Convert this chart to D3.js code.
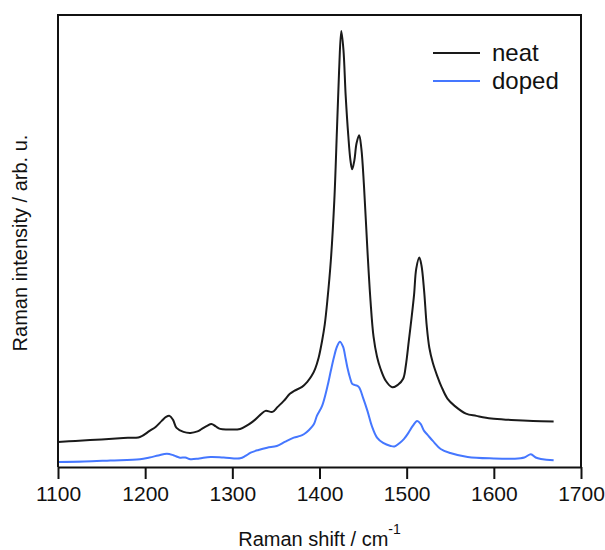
<!DOCTYPE html>
<html>
<head>
<meta charset="utf-8">
<script src="https://cdn.jsdelivr.net/npm/d3@7"></script>
<style>
  body { margin: 0; background: #fff; }
  svg { font-family: "Liberation Sans", Arial, sans-serif; }
</style>
</head>
<body>
<div id="chart"></div>
<script>
// Raman shift (cm-1) and intensity (arb. u.)
var neatShift = [1100, 1120, 1150, 1175, 1194, 1205, 1212, 1219, 1224, 1228, 1232, 1236, 1244, 1252,
  1260, 1265, 1271, 1276, 1281, 1286, 1295, 1309, 1318, 1324.5, 1332, 1338, 1346, 1352, 1359, 1366,
  1371, 1380, 1386, 1391, 1395, 1399, 1403, 1406, 1409, 1413, 1417, 1420, 1422.5, 1425, 1427.5, 1430,
  1433, 1435.5, 1437.5, 1440, 1442.5, 1445.5, 1448, 1451, 1455, 1458.5, 1462, 1466, 1470, 1476,
  1483.5, 1490, 1496, 1499, 1502.5, 1505.5, 1508.5, 1511, 1514.5, 1517, 1520, 1523, 1526, 1530, 1535,
  1540, 1547, 1555, 1568, 1580, 1597, 1620, 1645, 1668.6];
var neatValues = [25, 26, 27.5, 29, 30, 36, 40, 46, 50, 51, 47, 39, 35, 34,
  35.5, 38, 41, 43, 40.5, 38, 37.5, 38, 42, 46, 52, 56, 55, 60, 66, 73,
  76, 80, 85, 91, 98, 109, 126, 142, 166, 206, 266, 336, 396, 435, 416, 371,
  331, 306, 297, 306, 323, 331, 318, 281, 216, 166, 130, 110, 98, 86,
  79.5, 82, 88, 101, 126, 148, 172, 198, 209, 201, 176, 141, 119, 104, 91,
  80, 68, 61, 53.3, 51, 48.3, 47, 46, 45.3];

var dopedShift = [1100, 1130, 1160, 1194, 1205, 1215, 1225, 1233, 1240, 1246, 1252, 1262, 1275, 1290,
  1309, 1315, 1321, 1330, 1340, 1351, 1360, 1370.5, 1378, 1382, 1388, 1393.5, 1397, 1403, 1409, 1413,
  1416.5, 1420, 1423.4, 1427, 1430, 1432, 1435, 1437.5, 1440, 1445, 1450, 1455, 1460, 1466, 1473,
  1481.6, 1486, 1492, 1497, 1502, 1507, 1512, 1516, 1520, 1524, 1530, 1539, 1550, 1570, 1600, 1623,
  1635, 1642.5, 1648, 1654, 1668.6];
var dopedValues = [5, 5.5, 6.5, 7.7, 9.5, 11.5, 13.3, 11.5, 9.3, 9.5, 7.7, 8.5, 10, 9.5,
  8.7, 11, 14.3, 17, 19.3, 21, 25, 29.3, 31, 32.7, 37, 42.7, 51, 61, 80, 96,
  109.3, 120, 125, 120, 108, 99.3, 89, 83, 82, 80, 69, 56, 41, 29.3, 24,
  21, 20.5, 24, 28, 34, 41, 46, 43, 36, 32, 26, 18, 14, 10, 8.5, 8.3,
  9.5, 12.7, 9.5, 8, 6.7];

var seriesNames = ['neat', 'doped'];
var seriesColors = ['#1a1a1a', '#4577ff'];
var xTicks = [1100, 1200, 1300, 1400, 1500, 1600, 1700];

var width = 605, height = 550;
var margin = {top: 15, right: 24, bottom: 83, left: 58};

var svg = d3.select('#chart').append('svg')
    .attr('width', width)
    .attr('height', height);

var x = d3.scaleLinear()
    .domain([1100, 1700])
    .range([margin.left, width - margin.right]);

var y = d3.scaleLinear()
    .domain([0, 451])
    .range([height - margin.bottom, margin.top]);

var series = [
  {name: seriesNames[0], color: seriesColors[0], pts: d3.zip(neatShift, neatValues)},
  {name: seriesNames[1], color: seriesColors[1], pts: d3.zip(dopedShift, dopedValues)}
];

var line = d3.line()
    .x(function(d) { return x(d[0]); })
    .y(function(d) { return y(d[1]); })
    .curve(d3.curveCatmullRom.alpha(0.5));

series.forEach(function(s) {
  svg.append('path')
     .attr('d', line(s.pts))
     .attr('fill', 'none')
     .attr('stroke', s.color)
     .attr('stroke-width', 2)
     .attr('stroke-linejoin', 'round');
});

/* рамка: верх, лево, право */
var x0 = x.range()[0], x1 = x.range()[1];
var y0 = y.range()[0], y1 = y.range()[1];
svg.append('path')
   .attr('d', 'M' + x0 + ',' + y0 + 'V' + y1 + 'H' + x1 + 'V' + y0)
   .attr('fill', 'none')
   .attr('stroke', '#111')
   .attr('stroke-width', 2);

var xAxis = svg.append('g')
    .attr('transform', 'translate(0,' + y0 + ')')
    .call(d3.axisBottom(x).tickValues(xTicks).tickSize(12).tickSizeOuter(0).tickPadding(7).tickFormat(d3.format('d')));
xAxis.select('.domain').attr('stroke', '#111').attr('stroke-width', 2);
xAxis.selectAll('.tick line').attr('stroke', '#111').attr('stroke-width', 2);
xAxis.selectAll('.tick text').attr('font-size', 21).attr('fill', '#111');

var xTitle = svg.append('text')
    .attr('x', (x0 + x1) / 2)
    .attr('y', 546)
    .attr('text-anchor', 'middle')
    .attr('font-size', 20)
    .attr('fill', '#111')
    .text('Raman shift / cm');
xTitle.append('tspan')
    .attr('dy', -12)
    .attr('font-size', 14)
    .text('-1');

svg.append('text')
   .attr('transform', 'translate(27,' + ((y0 + y1) / 2 + 2) + ') rotate(-90)')
   .attr('text-anchor', 'middle')
   .attr('font-size', 20)
   .attr('fill', '#111')
   .text('Raman intensity / arb. u.');

var legend = svg.append('g');
series.forEach(function(s, i) {
  var ly = 53 + i * 28;
  legend.append('line')
        .attr('x1', 433).attr('x2', 480)
        .attr('y1', ly).attr('y2', ly)
        .attr('stroke', s.color)
        .attr('stroke-width', 2);
  legend.append('text')
        .attr('x', 492)
        .attr('y', ly + 8)
        .attr('font-size', 24)
        .attr('fill', '#111')
        .text(s.name);
});
</script>
</body>
</html>
